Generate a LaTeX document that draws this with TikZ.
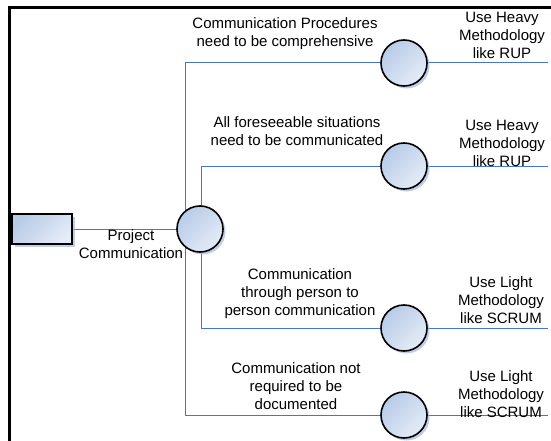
\documentclass[tikz,border=0pt]{standalone}
\usepackage{fontspec}
\setmainfont{Liberation Sans}
\usetikzlibrary{shadows,backgrounds}
\definecolor{linkblue}{RGB}{70,118,196}
\definecolor{filllight}{RGB}{228,236,247}
\definecolor{filldark}{RGB}{184,203,231}
\definecolor{shadowblue}{RGB}{168,184,220}
\begin{document}
\begin{tikzpicture}[x=1pt,y=-1pt,
  conn/.style={draw=linkblue, line width=1pt},
  bubble/.style={circle, draw=black, line width=1.6pt, minimum size=46pt, inner sep=0pt,
    top color=filldark, bottom color=filllight, shading angle=45,
    drop shadow={shadow xshift=2.5pt, shadow yshift=-2.5pt, fill=shadowblue, opacity=0.7}},
  startbox/.style={rectangle, draw=black, line width=1.6pt, minimum width=60pt, minimum height=30pt, inner sep=0pt,
    top color=filldark, bottom color=filllight, shading angle=45,
    drop shadow={shadow xshift=2.5pt, shadow yshift=-2.5pt, fill=shadowblue, opacity=0.7}},
  lbl/.style={align=center, font=\fontsize{15}{18}\selectfont, inner sep=0pt}]
\useasboundingbox (0,0) rectangle (551,441);
% frame
\draw[line width=3pt] (9.5,441) -- (9.5,7.5) -- (551,7.5);
% labels
\node[lbl] (l0) at (131,244) {Project\\Communication};
\node[lbl] (l1) at (285,34) {Communication Procedures\\need to be comprehensive};
\node[lbl] (l2) at (297,131) {All foreseeable situations\\need to be communicated};
\node[lbl] (l3) at (300,294) {Communication\\through person to\\person communication};
\node[lbl] (l4) at (296,386) {Communication not\\required to be\\documented};
\node[lbl] (r1) at (502,35) {Use Heavy\\Methodology\\like RUP};
\node[lbl] (r2) at (502,143) {Use Heavy\\Methodology\\like RUP};
\node[lbl] (r3) at (501,300) {Use Light\\Methodology\\like SCRUM};
\node[lbl] (r4) at (501,394) {Use Light\\Methodology\\like SCRUM};
% shapes
\node[startbox] (box) at (42,229) {};
\node[bubble] (c0) at (200,229) {};
\node[bubble] (c1) at (404,63) {};
\node[bubble] (c2) at (404,166) {};
\node[bubble] (c3) at (404,328) {};
\node[bubble] (c4) at (404,415) {};
\coordinate (va) at (185,229);
\coordinate (vb) at (201,229);
\coordinate (e1) at (548,63);
\coordinate (e2) at (548,166);
\coordinate (e3) at (548,328);
\coordinate (e4) at (548,415);
\begin{scope}[on background layer]
\draw[conn] (box.east) -- (c0.center);
\draw[conn] (c1.center) -| (va);
\draw[conn] (c4.center) -| (va);
\draw[conn] (c2.center) -| (vb);
\draw[conn] (c3.center) -| (vb);
\draw[conn] (c1.center) -- (e1);
\draw[conn] (c2.center) -- (e2);
\draw[conn] (c3.center) -- (e3);
\draw[conn] (c4.center) -- (e4);
\end{scope}
\end{tikzpicture}
\end{document}
